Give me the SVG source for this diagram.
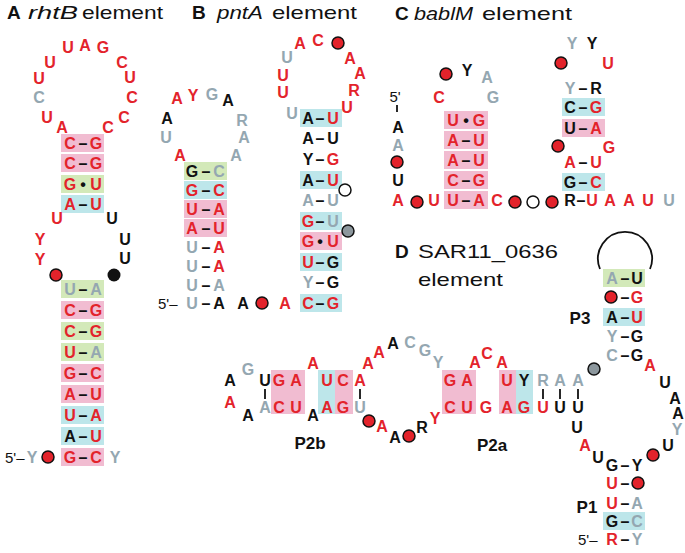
<svg xmlns="http://www.w3.org/2000/svg" width="685" height="553" viewBox="0 0 685 553">
<style>
.t{font-family:'Liberation Sans',Arial,sans-serif;font-size:16px;font-weight:bold;text-anchor:middle;fill:#111}
.r{fill:#e3232b}.g{fill:#94a7b1}.k{fill:#111}
.pk{fill:#f1bcd1}.cy{fill:#bde6ea}.gr{fill:#d3e9b9}
.dr{fill:#e3232b;stroke:#111;stroke-width:1.5}
.dw{fill:#fff;stroke:#111;stroke-width:1.5}
.dg{fill:#8c979d;stroke:#111;stroke-width:1.5}
.dk{fill:#111}
.ti{font-family:'Liberation Sans',Arial,sans-serif;font-size:19px;fill:#111}
.fv{font-family:'Liberation Sans',Arial,sans-serif;font-size:15px;fill:#111}
.lb{font-family:'Liberation Sans',Arial,sans-serif;font-size:17px;font-weight:bold;fill:#111;text-anchor:middle}
.cn{stroke:#111;stroke-width:1.8;fill:none}
</style>
<rect width="685" height="553" fill="#fff"/>

<g id="titles">
<text class="ti" x="7" y="19" font-weight="bold">A</text>
<text class="ti" x="28" y="19" font-style="italic" textLength="50" lengthAdjust="spacingAndGlyphs">rhtB</text>
<text class="ti" x="82" y="19" textLength="81" lengthAdjust="spacingAndGlyphs">element</text>
<text class="ti" x="192" y="19" font-weight="bold">B</text>
<text class="ti" x="217" y="19" font-style="italic" textLength="46" lengthAdjust="spacingAndGlyphs">pntA</text>
<text class="ti" x="272" y="19" textLength="85" lengthAdjust="spacingAndGlyphs">element</text>
<text class="ti" x="395" y="20" font-weight="bold">C</text>
<text class="ti" x="414" y="20" font-style="italic" textLength="59" lengthAdjust="spacingAndGlyphs">bablM</text>
<text class="ti" x="482" y="20" textLength="90" lengthAdjust="spacingAndGlyphs">element</text>
<text class="ti" x="395" y="258" font-weight="bold">D</text>
<text class="ti" x="418" y="258" textLength="140" lengthAdjust="spacingAndGlyphs">SAR11_0636</text>
<text class="ti" x="418" y="286" textLength="85" lengthAdjust="spacingAndGlyphs">element</text>
</g>

<g id="connectors">
<line class="cn" x1="397" y1="105" x2="397" y2="112"/>
<path class="cn" d="M600 269 A27 27 0 1 1 650 269"/>
<line class="cn" x1="265" y1="389" x2="265" y2="399"/>
<line class="cn" x1="279" y1="389" x2="279" y2="399"/>
<line class="cn" x1="296" y1="389" x2="296" y2="399"/>
<line class="cn" x1="327" y1="389" x2="327" y2="399"/>
<line class="cn" x1="343" y1="389" x2="343" y2="399"/>
<line class="cn" x1="360" y1="389" x2="360" y2="399"/>
<line class="cn" x1="450" y1="389" x2="450" y2="399"/>
<line class="cn" x1="467" y1="389" x2="467" y2="399"/>
<line class="cn" x1="507" y1="389" x2="507" y2="399"/>
<line class="cn" x1="524" y1="389" x2="524" y2="399"/>
<line class="cn" x1="543" y1="389" x2="543" y2="399"/>
<line class="cn" x1="560" y1="389" x2="560" y2="399"/>
<line class="cn" x1="578" y1="389" x2="578" y2="399"/>
</g>

<g id="rhtB">
<rect class="pk" x="61" y="134" width="43" height="18"/>
<rect class="pk" x="61" y="154" width="43" height="18"/>
<rect class="gr" x="61" y="175" width="43" height="18"/>
<rect class="cy" x="61" y="195" width="43" height="18"/>
<rect class="gr" x="61" y="280" width="43" height="18"/>
<rect class="pk" x="61" y="301" width="43" height="18"/>
<rect class="gr" x="61" y="322" width="43" height="18"/>
<rect class="gr" x="61" y="343" width="43" height="18"/>
<rect class="pk" x="61" y="364" width="43" height="18"/>
<rect class="pk" x="61" y="385" width="43" height="18"/>
<rect class="cy" x="61" y="406" width="43" height="18"/>
<rect class="cy" x="61" y="427" width="43" height="18"/>
<rect class="pk" x="61" y="448" width="43" height="18"/>
<text class="t r" x="68" y="53">U</text><text class="t r" x="85" y="51">A</text><text class="t r" x="103" y="53">G</text>
<text class="t r" x="50" y="68">U</text><text class="t r" x="122" y="68">C</text>
<text class="t r" x="39" y="84">U</text><text class="t r" x="130" y="83">U</text>
<text class="t g" x="39" y="103">C</text><text class="t r" x="132" y="103">C</text>
<text class="t r" x="47" y="123">U</text><text class="t r" x="124" y="123">C</text>
<text class="t r" x="62" y="133">A</text><text class="t r" x="108" y="133">C</text>
<text class="t" y="149"><tspan x="70" class="r">C</tspan><tspan x="83">–</tspan><tspan x="96" class="r">G</tspan></text>
<text class="t" y="169"><tspan x="70" class="r">C</tspan><tspan x="83">–</tspan><tspan x="96" class="r">G</tspan></text>
<text class="t" y="190"><tspan x="70" class="r">G</tspan><tspan x="83">•</tspan><tspan x="96" class="r">U</tspan></text>
<text class="t" y="210"><tspan x="70" class="r">A</tspan><tspan x="83">–</tspan><tspan x="96" class="r">U</tspan></text>
<text class="t r" x="57" y="224">U</text><text class="t r" x="40" y="245">Y</text><text class="t r" x="40" y="265">Y</text>
<circle class="dr" cx="56" cy="275" r="6"/>
<text class="t k" x="112" y="224">U</text><text class="t k" x="125" y="245">U</text><text class="t k" x="125" y="264">U</text>
<circle class="dk" cx="114" cy="275" r="6.5"/>
<text class="t" y="295"><tspan x="70" class="g">U</tspan><tspan x="83">–</tspan><tspan x="96" class="g">A</tspan></text>
<text class="t" y="316"><tspan x="70" class="r">C</tspan><tspan x="83">–</tspan><tspan x="96" class="r">G</tspan></text>
<text class="t" y="337"><tspan x="70" class="r">C</tspan><tspan x="83">–</tspan><tspan x="96" class="r">G</tspan></text>
<text class="t" y="358"><tspan x="70" class="r">U</tspan><tspan x="83">–</tspan><tspan x="96" class="g">A</tspan></text>
<text class="t" y="379"><tspan x="70" class="r">G</tspan><tspan x="83">–</tspan><tspan x="96" class="r">C</tspan></text>
<text class="t" y="400"><tspan x="70" class="r">A</tspan><tspan x="83">–</tspan><tspan x="96" class="r">U</tspan></text>
<text class="t" y="421"><tspan x="70" class="r">U</tspan><tspan x="83">–</tspan><tspan x="96" class="r">A</tspan></text>
<text class="t" y="442"><tspan x="70" class="k">A</tspan><tspan x="83">–</tspan><tspan x="96" class="r">U</tspan></text>
<text class="t" y="463"><tspan x="70" class="r">G</tspan><tspan x="83">–</tspan><tspan x="96" class="r">C</tspan></text>
<text class="fv" x="5" y="463">5'–</text>
<text class="t g" x="32" y="463">Y</text>
<circle class="dr" cx="48" cy="457" r="6"/>
<text class="t g" x="115" y="463">Y</text>
</g>

<g id="pntA">
<rect class="gr" x="184" y="162" width="43" height="18"/>
<rect class="cy" x="184" y="181" width="43" height="18"/>
<rect class="pk" x="184" y="200" width="43" height="18"/>
<rect class="pk" x="184" y="219" width="43" height="18"/>
<text class="t r" x="177" y="104">A</text><text class="t r" x="193" y="101">Y</text><text class="t g" x="212" y="100">G</text><text class="t k" x="228" y="106">A</text>
<text class="t k" x="167" y="124">A</text><text class="t g" x="242" y="126">R</text>
<text class="t g" x="166" y="143">U</text><text class="t g" x="244" y="143">A</text>
<text class="t r" x="180" y="161">A</text><text class="t g" x="236" y="161">A</text>
<text class="t" y="177"><tspan x="192" class="k">G</tspan><tspan x="206">–</tspan><tspan x="219" class="g">C</tspan></text>
<text class="t" y="196"><tspan x="192" class="r">G</tspan><tspan x="206">–</tspan><tspan x="219" class="r">C</tspan></text>
<text class="t" y="215"><tspan x="192" class="r">U</tspan><tspan x="206">–</tspan><tspan x="219" class="r">A</tspan></text>
<text class="t" y="234"><tspan x="192" class="r">A</tspan><tspan x="206">–</tspan><tspan x="219" class="r">U</tspan></text>
<text class="t" y="253"><tspan x="192" class="g">U</tspan><tspan x="206">–</tspan><tspan x="219" class="r">A</tspan></text>
<text class="t" y="272"><tspan x="192" class="g">U</tspan><tspan x="206">–</tspan><tspan x="219" class="r">A</tspan></text>
<text class="t" y="291"><tspan x="192" class="g">U</tspan><tspan x="206">–</tspan><tspan x="219" class="g">A</tspan></text>
<text class="t" y="309"><tspan x="192" class="g">U</tspan><tspan x="206">–</tspan><tspan x="219" class="k">A</tspan></text>
<text class="fv" x="158" y="309">5'–</text>
<text class="t k" x="243" y="309">A</text>
<circle class="dr" cx="262" cy="303" r="6"/>
<text class="t r" x="285" y="309">A</text>
<rect class="cy" x="300" y="109" width="42" height="18"/>
<rect class="cy" x="300" y="171" width="42" height="18"/>
<rect class="cy" x="300" y="212" width="42" height="18"/>
<rect class="pk" x="300" y="232" width="42" height="18"/>
<rect class="cy" x="300" y="253" width="42" height="18"/>
<rect class="cy" x="300" y="294" width="42" height="18"/>
<text class="t g" x="292" y="119">U</text><text class="t r" x="283" y="98">U</text><text class="t r" x="283" y="81">U</text><text class="t g" x="287" y="63">U</text>
<text class="t r" x="300" y="49">A</text><text class="t r" x="318" y="46">C</text>
<circle class="dr" cx="338" cy="43" r="6"/>
<text class="t r" x="350" y="64">A</text><text class="t r" x="360" y="79">A</text><text class="t r" x="354" y="96">R</text><text class="t r" x="347" y="113">U</text>
<text class="t" y="124"><tspan x="308" class="k">A</tspan><tspan x="320">–</tspan><tspan x="333" class="r">U</tspan></text>
<text class="t" y="144"><tspan x="308" class="k">A</tspan><tspan x="320">–</tspan><tspan x="333" class="k">U</tspan></text>
<text class="t" y="165"><tspan x="308" class="k">Y</tspan><tspan x="320">–</tspan><tspan x="333" class="r">G</tspan></text>
<text class="t" y="186"><tspan x="308" class="k">A</tspan><tspan x="320">–</tspan><tspan x="333" class="r">U</tspan></text>
<text class="t" y="206"><tspan x="308" class="g">A</tspan><tspan x="320">–</tspan><tspan x="333" class="g">U</tspan></text>
<text class="t" y="227"><tspan x="308" class="r">G</tspan><tspan x="320">–</tspan><tspan x="333" class="g">U</tspan></text>
<text class="t" y="247"><tspan x="308" class="r">G</tspan><tspan x="320">•</tspan><tspan x="333" class="r">U</tspan></text>
<text class="t" y="268"><tspan x="308" class="r">U</tspan><tspan x="320">–</tspan><tspan x="333" class="k">G</tspan></text>
<text class="t" y="288"><tspan x="308" class="g">Y</tspan><tspan x="320">–</tspan><tspan x="333" class="k">G</tspan></text>
<text class="t" y="309"><tspan x="308" class="r">C</tspan><tspan x="320">–</tspan><tspan x="333" class="r">G</tspan></text>
<circle class="dw" cx="345" cy="190" r="6"/>
<circle class="dg" cx="348" cy="231" r="6"/>
</g>

<g id="bablM">
<text class="fv" x="395" y="102" text-anchor="middle">5'</text>
<text class="t k" x="398" y="133">A</text><text class="t g" x="398" y="151">A</text>
<circle class="dr" cx="397" cy="162" r="6"/>
<text class="t k" x="398" y="186">U</text><text class="t r" x="398" y="206">A</text>
<circle class="dr" cx="417" cy="202" r="6"/>
<text class="t r" x="434" y="206">U</text>
<rect class="pk" x="444" y="111" width="44" height="18"/>
<rect class="pk" x="444" y="131" width="44" height="18"/>
<rect class="pk" x="444" y="151" width="44" height="18"/>
<rect class="pk" x="444" y="171" width="44" height="18"/>
<rect class="pk" x="444" y="191" width="44" height="18"/>
<circle class="dr" cx="446" cy="74" r="6"/>
<text class="t k" x="467" y="76">Y</text><text class="t g" x="487" y="83">A</text>
<text class="t r" x="439" y="103">C</text><text class="t g" x="493" y="103">G</text>
<text class="t" y="126"><tspan x="453" class="r">U</tspan><tspan x="466">•</tspan><tspan x="479" class="r">G</tspan></text>
<text class="t" y="146"><tspan x="453" class="r">A</tspan><tspan x="466">–</tspan><tspan x="479" class="r">U</tspan></text>
<text class="t" y="166"><tspan x="453" class="r">A</tspan><tspan x="466">–</tspan><tspan x="479" class="r">U</tspan></text>
<text class="t" y="186"><tspan x="453" class="r">C</tspan><tspan x="466">–</tspan><tspan x="479" class="r">G</tspan></text>
<text class="t" y="206"><tspan x="453" class="r">U</tspan><tspan x="466">–</tspan><tspan x="479" class="r">A</tspan></text>
<text class="t r" x="497" y="206">C</text>
<circle class="dr" cx="515" cy="202" r="6"/>
<circle class="dw" cx="533" cy="202" r="6"/>
<circle class="dr" cx="552" cy="202" r="6"/>
<rect class="cy" x="562" y="98" width="43" height="18"/>
<rect class="pk" x="562" y="119" width="43" height="18"/>
<rect class="cy" x="562" y="173" width="43" height="18"/>
<text class="t g" x="572" y="49">Y</text><text class="t k" x="592" y="49">Y</text>
<circle class="dr" cx="561" cy="63" r="6"/>
<text class="t r" x="608" y="69">U</text>
<text class="t" y="94"><tspan x="570" class="g">Y</tspan><tspan x="583">–</tspan><tspan x="596" class="k">R</tspan></text>
<text class="t" y="113"><tspan x="570" class="k">C</tspan><tspan x="583">–</tspan><tspan x="596" class="r">G</tspan></text>
<text class="t" y="134"><tspan x="570" class="k">U</tspan><tspan x="583">–</tspan><tspan x="596" class="r">A</tspan></text>
<circle class="dr" cx="558" cy="146" r="6"/>
<text class="t r" x="609" y="153">G</text>
<text class="t" y="168"><tspan x="570" class="r">A</tspan><tspan x="583">–</tspan><tspan x="596" class="r">U</tspan></text>
<text class="t" y="188"><tspan x="570" class="k">G</tspan><tspan x="583">–</tspan><tspan x="596" class="r">C</tspan></text>
<text class="t" y="206"><tspan x="570" class="k">R</tspan><tspan x="581">–</tspan><tspan x="592" class="r">U</tspan></text>
<text class="t r" x="610" y="206">A</text><text class="t r" x="629" y="206">A</text><text class="t r" x="648" y="206">U</text><text class="t g" x="669" y="206">U</text>
</g>

<g id="sar11">
<rect class="pk" x="271" y="370" width="34" height="44"/>
<rect class="cy" x="318" y="370" width="17" height="44"/>
<rect class="pk" x="335" y="370" width="18" height="44"/>
<rect class="pk" x="442" y="370" width="34" height="44"/>
<rect class="pk" x="499" y="370" width="17" height="44"/>
<rect class="cy" x="516" y="370" width="17" height="44"/>
<text class="t g" x="248" y="375">G</text><text class="t k" x="230" y="386">A</text><text class="t r" x="230" y="408">A</text><text class="t k" x="248" y="421">A</text>
<text class="t k" x="265" y="386">U</text><text class="t r" x="279" y="386">G</text><text class="t r" x="296" y="386">A</text>
<text class="t g" x="265" y="413">A</text><text class="t r" x="279" y="413">C</text><text class="t r" x="296" y="413">U</text>
<text class="t r" x="313" y="369">A</text><text class="t k" x="313" y="421">A</text>
<text class="t r" x="327" y="386">U</text><text class="t r" x="343" y="386">C</text><text class="t r" x="360" y="386">A</text>
<text class="t r" x="327" y="413">A</text><text class="t r" x="343" y="413">G</text><text class="t g" x="360" y="413">U</text>
<text class="t r" x="368" y="369">A</text><text class="t r" x="379" y="358">A</text><text class="t k" x="393" y="349">A</text>
<text class="t g" x="410" y="348">C</text><text class="t g" x="425" y="356">G</text><text class="t g" x="438" y="368">Y</text>
<circle class="dr" cx="369" cy="421" r="6"/>
<text class="t r" x="382" y="432">A</text><text class="t k" x="395" y="443">A</text>
<circle class="dr" cx="409" cy="436" r="6"/>
<text class="t k" x="422" y="433">R</text><text class="t r" x="435" y="424">Y</text>
<text class="t r" x="450" y="386">G</text><text class="t r" x="467" y="386">A</text>
<text class="t r" x="450" y="413">C</text><text class="t r" x="467" y="413">U</text>
<text class="t r" x="486" y="413">G</text>
<text class="t r" x="475" y="368">A</text><text class="t r" x="487" y="359">C</text><text class="t r" x="502" y="368">A</text>
<text class="t r" x="507" y="386">U</text><text class="t k" x="524" y="386">Y</text><text class="t g" x="543" y="386">R</text><text class="t g" x="560" y="386">A</text><text class="t g" x="578" y="386">A</text>
<text class="t r" x="507" y="413">A</text><text class="t r" x="524" y="413">G</text><text class="t r" x="543" y="413">U</text><text class="t k" x="560" y="413">U</text><text class="t k" x="578" y="413">U</text>
<text class="lb" x="310" y="449">P2b</text>
<text class="lb" x="492" y="451">P2a</text>
<circle class="dg" cx="594" cy="369" r="6"/>
<rect class="gr" x="603" y="269" width="42" height="18"/>
<rect class="cy" x="603" y="308" width="42" height="18"/>
<rect class="cy" x="603" y="512" width="42" height="18"/>
<text class="t" y="284"><tspan x="612" class="g">A</tspan><tspan x="625">–</tspan><tspan x="637" class="k">U</tspan></text>
<circle class="dr" cx="611" cy="297" r="6"/>
<text class="t" y="303"><tspan x="625">–</tspan><tspan x="637" class="r">G</tspan></text>
<text class="t" y="323"><tspan x="612" class="k">A</tspan><tspan x="625">–</tspan><tspan x="637" class="r">U</tspan></text>
<text class="t" y="342"><tspan x="612" class="g">Y</tspan><tspan x="625">–</tspan><tspan x="637" class="k">G</tspan></text>
<text class="t" y="361"><tspan x="612" class="g">C</tspan><tspan x="625">–</tspan><tspan x="637" class="k">G</tspan></text>
<text class="lb" x="580" y="324">P3</text>
<text class="t r" x="650" y="371">A</text><text class="t k" x="665" y="388">U</text><text class="t k" x="675" y="404">A</text><text class="t k" x="678" y="419">A</text>
<text class="t g" x="677" y="435">Y</text><text class="t k" x="668" y="451">U</text>
<circle class="dr" cx="653" cy="455" r="6"/>
<text class="t k" x="577" y="433">U</text><text class="t r" x="585" y="451">A</text><text class="t k" x="598" y="463">U</text>
<text class="t" y="471"><tspan x="612" class="k">G</tspan><tspan x="625">–</tspan><tspan x="637" class="k">Y</tspan></text>
<text class="t" y="489"><tspan x="612" class="r">U</tspan><tspan x="625">–</tspan></text>
<circle class="dr" cx="638" cy="483" r="6"/>
<text class="t" y="509"><tspan x="612" class="r">U</tspan><tspan x="625">–</tspan><tspan x="637" class="g">A</tspan></text>
<text class="t" y="527"><tspan x="612" class="k">G</tspan><tspan x="625">–</tspan><tspan x="637" class="g">C</tspan></text>
<text class="fv" x="578" y="545">5'–</text>
<text class="t" y="545"><tspan x="612" class="r">R</tspan><tspan x="625">–</tspan><tspan x="637" class="g">Y</tspan></text>
<text class="lb" x="587" y="513">P1</text>
</g>
</svg>
